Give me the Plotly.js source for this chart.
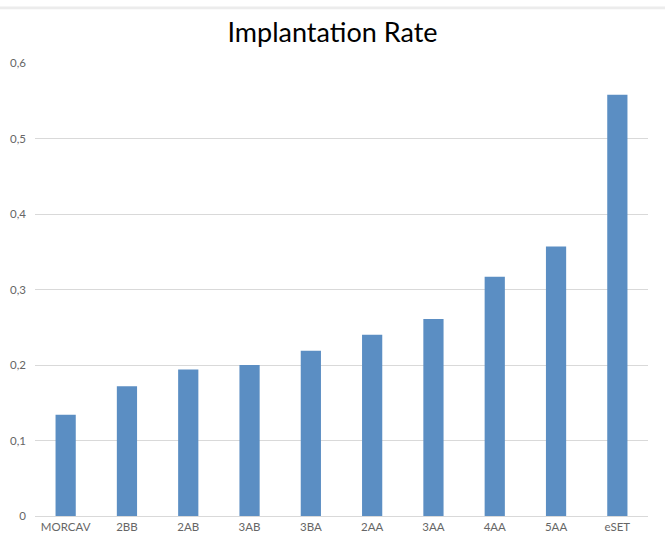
<!DOCTYPE html>
<html><head><meta charset="utf-8">
<script src="https://cdn.plot.ly/plotly-3.0.1.min.js"></script>
<style>body{margin:0;background:#fff}#c{width:665px;height:541px}</style>
</head><body><div id="c"></div>
<script>
const categories = ["MORCAV","2BB","2AB","3AB","3BA","2AA","3AA","4AA","5AA","eSET"];
const rates = [0.134,0.172,0.194,0.200,0.219,0.240,0.261,0.317,0.357,0.558];
const yTicks = [0,0.1,0.2,0.3,0.4,0.5,0.6];

Plotly.newPlot('c', [{
  type: 'bar', x: categories, y: rates,
  marker: {color: '#5b8ec3'},
  hoverinfo: 'x+y'
}], {
  width: 665, height: 541,
  margin: {l: 35, r: 17, t: 63, b: 25},
  paper_bgcolor: '#fff', plot_bgcolor: '#fff',
  separators: ', ',
  bargap: 0.67,
  font: {family: 'Lato, "Open Sans", sans-serif', color: '#666666', size: 11.5},
  title: {text: 'Implantation Rate', x: 0.5, xanchor: 'center', y: 0.94, yanchor: 'middle',
          font: {family: 'Lato, "Open Sans", sans-serif', size: 27, color: '#000'}},
  xaxis: {showgrid: false, showline: true, linecolor: '#d9d9d9', linewidth: 1, ticks: '', tickfont: {size: 11.5}, ticklen: 0},
  yaxis: {range: [0, 0.6], tickvals: yTicks, showgrid: true, gridcolor: '#d9d9d9', gridwidth: 1,
          zeroline: false, showline: false, ticks: '', tickfont: {size: 11.5}, ticklabelstandoff: 8},
  shapes: [{type: 'rect', xref: 'paper', yref: 'paper', x0: -0.1, x1: 1.1, y0: 1.1185, y1: 1.125,
            fillcolor: '#ececec', line: {width: 0}}],
  showlegend: false
}, {displayModeBar: false, staticPlot: true});
</script></body></html>
